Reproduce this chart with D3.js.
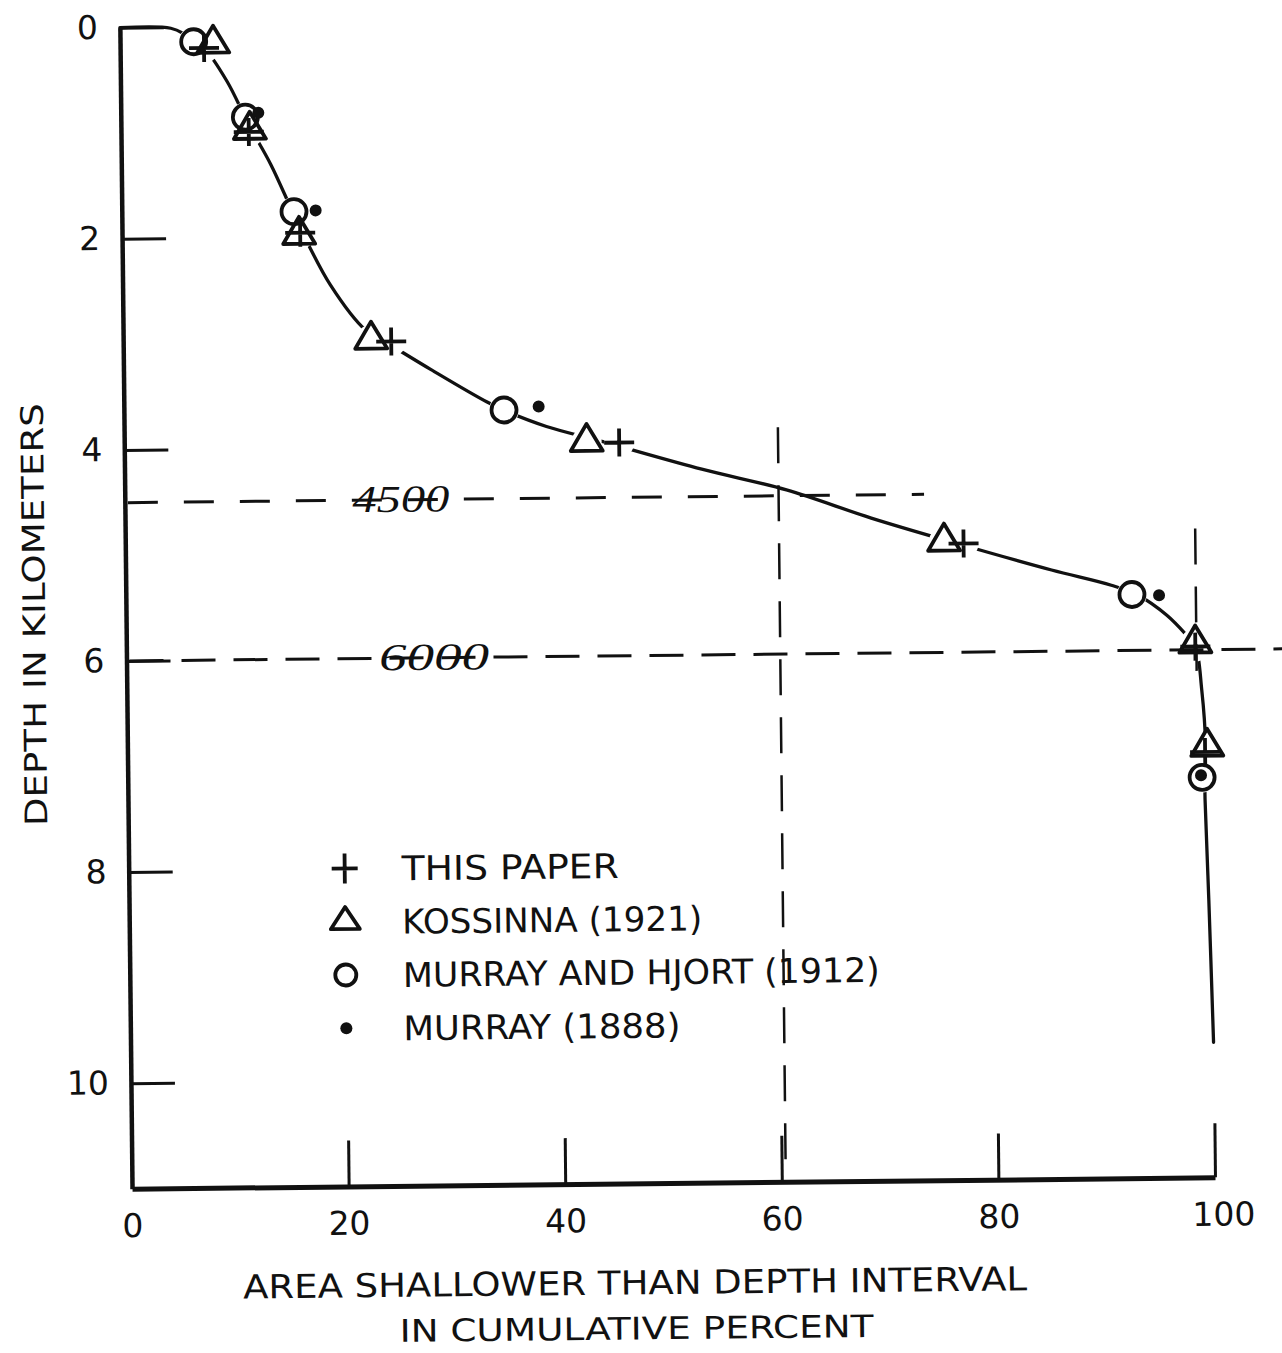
<!DOCTYPE html>
<html><head><meta charset="utf-8">
<script src="https://cdn.jsdelivr.net/npm/d3@7"></script>
<style>
body{margin:0;background:#fff}
svg{display:block}
</style></head><body>
<script>
// ---- data (x = cumulative area %, y = depth km) ----
const xTicks = [0, 20, 40, 60, 80, 100];
const yTicks = [0, 2, 4, 6, 8, 10];

const curve = [[0,0],[4.7,0.01],[6.1,0.075],[7.6,0.18],[9.85,0.52],[11.8,0.93],[13.8,1.31],
  [16.3,1.88],[19.2,2.46],[22.4,2.89],[24,2.99],[28.4,3.27],[33.5,3.58],[35.5,3.68],[39,3.82],
  [44.2,3.97],[53.3,4.24],[61.1,4.445],[68.9,4.72],[76.5,4.96],[85.5,5.23],[91,5.38],[93.5,5.48],
  [96.1,5.67],[97.9,5.86],[98.7,5.96],[99.25,6.38],[99.55,6.9],[99.45,7.2],[99.45,7.42],
  [99.7,8.37],[100,9.72]];

const thisPaper   = [[7.75,0.20],[11.8,1.0],[16.45,1.96],[24.75,3.0],[45.7,3.98],[77.4,4.97],[98.7,5.97],[99.5,6.97]];
const kossinna    = [[8.6,0.16],[11.9,0.98],[16.35,1.98],[22.9,2.98],[42.7,3.97],[75.6,4.95],[98.7,5.94],[99.7,6.92]];
const murrayHjort = [[6.8,0.14],[11.5,0.86],[15.9,1.76],[35.1,3.66],[92.9,5.47],[99.2,7.21]];
const murray1888  = [[12.7,0.82],[17.9,1.75],[38.3,3.63],[95.4,5.48],[99.1,7.19]];

const legendLabels = ["THIS PAPER", "KOSSINNA (1921)", "MURRAY AND HJORT (1912)", "MURRAY (1888)"];
const legendWidths = [217, 300, 477, 277];

const refDepths = [4.5, 6];            // horizontal dashed lines
const refDepthEnds = [73.8, 108];      // where they stop (x %)
const refDepthLabels = ["4500", "6000"];
const refDepthLabelX = [25.5, 28.4];
const refPercents = [60, 98.8];        // vertical dashed lines
const refPercentSpans = [[3.85, 11], [4.85, 6.2]];

// ---- drawing ----
const W = 1282, H = 1353;
const font = "'DejaVu Sans', sans-serif";
const ink = "#111";
const svg = d3.select("body").append("svg").attr("width", W).attr("height", H);
svg.append("rect").attr("width", W).attr("height", H).attr("fill", "#fff");
const g = svg.append("g").attr("transform", "rotate(-0.6,670,610)");

const x = d3.scaleLinear().domain([0, 100]).range([126, 1209]);
const y = d3.scaleLinear().domain([0, 11]).range([22, 1183]);

// axes
const gx = g.append("g").attr("transform", `translate(0,${y(11)})`)
  .call(d3.axisBottom(x).tickValues(xTicks).tickSize(-46).tickSizeOuter(0).tickPadding(0).tickFormat(d3.format("d")));
gx.attr("font-family", font).attr("font-size", 33);
gx.select(".domain").attr("stroke", ink).attr("stroke-width", 5);
gx.selectAll(".tick line").attr("stroke", ink).attr("stroke-width", 3);
gx.selectAll(".tick").filter(d => d === 0).select("line").remove();
gx.selectAll(".tick").filter(d => d === 100).select("line").attr("y2", -54);
gx.selectAll(".tick text").attr("y", 25).attr("fill", ink);
gx.selectAll(".tick").filter(d => d === 100).select("text").attr("x", 8);

const gy = g.append("g").attr("transform", `translate(${x(0)},0)`)
  .call(d3.axisLeft(y).tickValues(yTicks).tickSize(-44).tickSizeOuter(0).tickPadding(22));
gy.attr("font-family", font).attr("font-size", 33);
gy.select(".domain").attr("stroke", ink).attr("stroke-width", 4.5);
gy.selectAll(".tick line").attr("stroke", ink).attr("stroke-width", 3);
gy.selectAll(".tick text").attr("fill", ink);

// curve
g.append("path").datum(curve)
  .attr("d", d3.line().x(d => x(d[0])).y(d => y(d[1])).curve(d3.curveCatmullRom.alpha(0.5)))
  .attr("fill", "none").attr("stroke", ink).attr("stroke-width", 3.3).attr("stroke-linecap", "round");

// white gaps in the hand-drawn curve around the plotted symbols
g.append("g").selectAll("circle").data(thisPaper.concat(kossinna, murrayHjort)).join("circle")
  .attr("cx", d => x(d[0])).attr("cy", d => y(d[1])).attr("r", 15).attr("fill", "#fff");

// reference dashed lines
const dashH = ["30,26", "34,18"];
refDepths.forEach((d, i) => {
  g.append("line").attr("x1", x(0) + 3).attr("x2", x(refDepthEnds[i]))
    .attr("y1", y(d)).attr("y2", y(d))
    .attr("stroke", ink).attr("stroke-width", 3).attr("stroke-dasharray", dashH[i]);
  g.append("text").attr("x", x(refDepthLabelX[i])).attr("y", y(d) + 12)
    .attr("text-anchor", "middle").attr("font-family", "'Liberation Serif', serif")
    .attr("font-style", "italic").attr("font-size", 38).attr("fill", ink)
    .attr("textLength", i === 0 ? 97 : 110).attr("lengthAdjust", "spacingAndGlyphs")
    .text(refDepthLabels[i]);
});
refPercents.forEach((p, i) => {
  g.append("line").attr("x1", x(p) + (i === 0 ? 4 : 0)).attr("x2", x(p) + (i === 0 ? 4 : 0))
    .attr("y1", y(refPercentSpans[i][0])).attr("y2", y(refPercentSpans[i][1]))
    .attr("stroke", ink).attr("stroke-width", 2.5).attr("stroke-dasharray", "36,22");
});

// markers
const tri = (w, h) => `M0,${-2*h/3}L${w/2},${h/3}L${-w/2},${h/3}Z`;
const plus = (a, b) => `M${-a},0H${a}M0,${-b}V${b}`;

g.append("g").selectAll("path").data(kossinna).join("path")
  .attr("transform", d => `translate(${x(d[0])},${y(d[1])})`)
  .attr("d", tri(32, 27)).attr("fill", "none").attr("stroke", ink).attr("stroke-width", 3.8).attr("stroke-linejoin", "round");
g.append("g").selectAll("path").data(thisPaper).join("path")
  .attr("transform", d => `translate(${x(d[0])},${y(d[1])})`)
  .attr("d", plus(15, 14)).attr("fill", "none").attr("stroke", ink).attr("stroke-width", 3.8);
g.append("g").selectAll("circle").data(murrayHjort).join("circle")
  .attr("cx", d => x(d[0])).attr("cy", d => y(d[1])).attr("r", 12.5)
  .attr("fill", "none").attr("stroke", ink).attr("stroke-width", 3.8);
g.append("g").selectAll("circle").data(murray1888).join("circle")
  .attr("cx", d => x(d[0])).attr("cy", d => y(d[1])).attr("r", 6).attr("fill", ink);

// legend
const lg = g.append("g").attr("transform", "translate(342,865)");
const legendRows = lg.selectAll("g").data(legendLabels).join("g")
  .attr("transform", (d, i) => `translate(0,${i * 53.3})`);
legendRows.each(function(d, i) {
  const r = d3.select(this);
  if (i === 0) r.append("path").attr("d", plus(13, 15)).attr("stroke", ink).attr("stroke-width", 3.8).attr("fill", "none");
  if (i === 1) r.append("path").attr("d", tri(29, 22)).attr("stroke", ink).attr("stroke-width", 3.8).attr("fill", "none").attr("stroke-linejoin", "round");
  if (i === 2) r.append("circle").attr("r", 10.5).attr("stroke", ink).attr("stroke-width", 3.8).attr("fill", "none");
  if (i === 3) r.append("circle").attr("r", 6).attr("fill", ink);
  r.append("text").attr("x", 57).attr("y", 12.5).attr("font-family", font).attr("font-size", 34)
    .attr("fill", ink).attr("textLength", legendWidths[i]).attr("lengthAdjust", "spacingAndGlyphs").text(d);
});

// axis titles
g.append("text").attr("x", 628).attr("y", 1294).attr("text-anchor", "middle")
  .attr("font-family", font).attr("font-size", 33).attr("fill", ink)
  .attr("textLength", 784).attr("lengthAdjust", "spacingAndGlyphs")
  .text("AREA SHALLOWER THAN DEPTH INTERVAL");
g.append("text").attr("x", 629).attr("y", 1339).attr("text-anchor", "middle")
  .attr("font-family", font).attr("font-size", 31).attr("fill", ink)
  .attr("textLength", 474).attr("lengthAdjust", "spacingAndGlyphs")
  .text("IN CUMULATIVE PERCENT");
g.append("text").attr("transform", "translate(45,608) rotate(-90)").attr("text-anchor", "middle")
  .attr("font-family", font).attr("font-size", 31).attr("fill", ink)
  .attr("textLength", 423).attr("lengthAdjust", "spacingAndGlyphs")
  .text("DEPTH IN KILOMETERS");
</script>
</body></html>
